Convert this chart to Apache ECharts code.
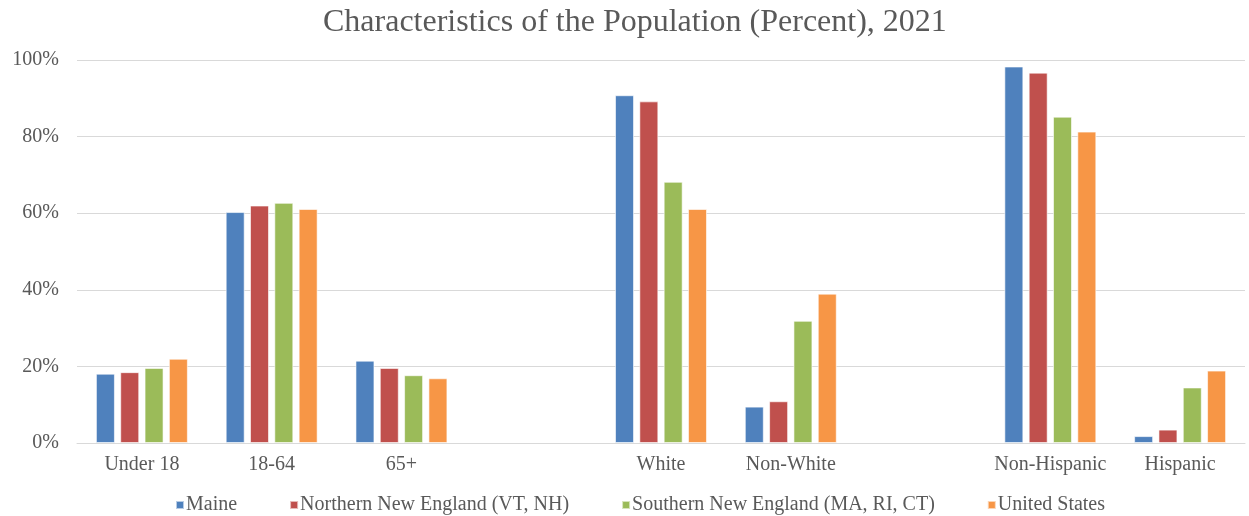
<!DOCTYPE html>
<html>
<head>
<meta charset="utf-8">
<script src="https://cdn.jsdelivr.net/npm/echarts@6/dist/echarts.min.js"></script>
<style>html,body{margin:0;padding:0;background:#fff}#c{width:1249px;height:516px}</style>
</head>
<body>
<div id="c"></div>
<script>
const categories = ['Under 18', '18-64', '65+', '', 'White', 'Non-White', '', 'Non-Hispanic', 'Hispanic'];
const seriesNames = ['Maine', 'Northern New England (VT, NH)', 'Southern New England (MA, RI, CT)', 'United States'];
const maine = [18.1, 60.3, 21.5, null, 90.8, 9.5, null, 98.3, 1.8];
const northernNE = [18.5, 62.0, 19.6, null, 89.2, 10.9, null, 96.7, 3.5];
const southernNE = [19.6, 62.7, 17.7, null, 68.2, 31.9, null, 85.2, 14.5];
const unitedStates = [22.0, 61.1, 16.9, null, 61.1, 39.0, null, 81.3, 18.9];
const yTicks = [0, 20, 40, 60, 80, 100];
const colors = ['#4f81bd', '#c0504d', '#9bbb59', '#f79646'];

const font = 'Liberation Serif, Times New Roman, serif';
const chart = echarts.init(document.getElementById('c'));
const values = [maine, northernNE, southernNE, unitedStates];
chart.setOption({
  animation: false,
  color: colors,
  title: {
    text: 'Characteristics of the Population (Percent), 2021',
    left: 318, top: 2,
    textStyle: {fontFamily: font, fontSize: 32, fontWeight: 'normal', color: '#595959'}
  },
  legend: {
    top: 490, left: 170,
    itemWidth: 8, itemHeight: 8, itemGap: 52,
    icon: 'rect',
    textStyle: {fontFamily: font, fontSize: 20, color: '#595959', padding: [0, 0, 0, -3]},
    data: seriesNames
  },
  grid: {left: 77, right: 4, top: 60, bottom: 73},
  xAxis: {
    type: 'category', data: categories,
    axisLine: {lineStyle: {color: '#d9d9d9', width: 1}},
    axisTick: {show: false},
    axisLabel: {fontFamily: font, fontSize: 20, color: '#595959', margin: 12, interval: 0}
  },
  yAxis: {
    type: 'value', min: yTicks[0], max: yTicks[yTicks.length - 1], interval: 20,
    axisLine: {show: false}, axisTick: {show: false},
    splitLine: {lineStyle: {color: '#d9d9d9', width: 1}},
    axisLabel: {fontFamily: font, fontSize: 20, color: '#595959', margin: 18, formatter: '{value}%'}
  },
  series: seriesNames.map((n, i) => ({
    name: n, type: 'bar', data: values[i],
    barWidth: 19, barGap: '28%',
    itemStyle: {borderColor: 'rgba(255,255,255,0.6)', borderWidth: 1}
  }))
});
</script>
</body>
</html>
